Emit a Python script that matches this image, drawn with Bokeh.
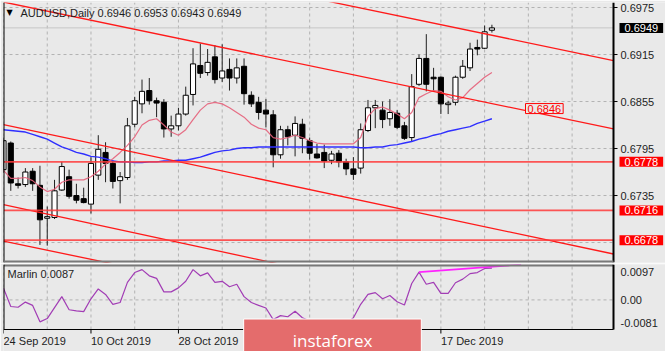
from bokeh.plotting import figure
from bokeh.layouts import column
from bokeh.models import ColumnDataSource, Label, Range1d, Grid
from bokeh.core.properties import value
from bokeh.embed import file_html
from bokeh.resources import INLINE

# ---------------- data ----------------
symbol = "AUDUSD,Daily"
indicator_name = "Marlin"

date_tick_bars = [0, 12, 24, 36, 48, 60]
date_tick_labels = ["24 Sep 2019", "10 Oct 2019", "28 Oct 2019", "13 Nov 2019", "29 Nov 2019", "17 Dec 2019"]
grid_bars = [0, 6, 12, 18, 24, 30, 36, 42, 48, 54, 60, 66, 72, 78]
price_grid = [0.6675, 0.6735, 0.6795, 0.6855, 0.6915, 0.6975]
price_axis_ticks = [0.6735, 0.6795, 0.6855, 0.6915, 0.6975]

opens = [0.6768, 0.6802, 0.6750, 0.6749, 0.6766, 0.6748, 0.6706, 0.6707, 0.6742, 0.6759,
         0.6735, 0.6731, 0.6724, 0.6761, 0.6790, 0.6776, 0.6754, 0.6758, 0.6826, 0.6852,
         0.6869, 0.6856, 0.6854, 0.6820, 0.6824, 0.6839, 0.6864, 0.6901, 0.6892, 0.6912,
         0.6885, 0.6896, 0.6885, 0.6900, 0.6863, 0.6854, 0.6844, 0.6838, 0.6787, 0.6819,
         0.6812, 0.6826, 0.6805, 0.6788, 0.6790, 0.6780, 0.6789, 0.6778, 0.6769, 0.6770,
         0.6818, 0.6847, 0.6844, 0.6833, 0.6840, 0.6824, 0.6809, 0.6877, 0.6910, 0.6886,
         0.6886, 0.6851, 0.6854, 0.6886, 0.6898, 0.6924, 0.6923, 0.6946]
highs = [0.6809, 0.6804, 0.6758, 0.6770, 0.6770, 0.6773, 0.6721, 0.6755, 0.6778, 0.6768,
         0.6750, 0.6745, 0.6784, 0.6812, 0.6803, 0.6780, 0.6765, 0.6834, 0.6861, 0.6883,
         0.6885, 0.6860, 0.6858, 0.6837, 0.6847, 0.6874, 0.6923, 0.6929, 0.6922, 0.6927,
         0.6928, 0.6910, 0.6910, 0.6910, 0.6868, 0.6861, 0.6858, 0.6844, 0.6824, 0.6824,
         0.6836, 0.6833, 0.6809, 0.6801, 0.6800, 0.6792, 0.6793, 0.6782, 0.6784, 0.6827,
         0.6857, 0.6857, 0.6855, 0.6858, 0.6844, 0.6829, 0.6890, 0.6915, 0.6941, 0.6898,
         0.6887, 0.6856, 0.6888, 0.6908, 0.6930, 0.6934, 0.6952, 0.6953]
lows = [0.6764, 0.6741, 0.6744, 0.6746, 0.6741, 0.6672, 0.6671, 0.6705, 0.6741, 0.6731,
        0.6725, 0.6725, 0.6712, 0.6755, 0.6752, 0.6744, 0.6725, 0.6755, 0.6822, 0.6840,
        0.6851, 0.6835, 0.6809, 0.6810, 0.6818, 0.6837, 0.6850, 0.6885, 0.6888, 0.6878,
        0.6880, 0.6869, 0.6878, 0.6851, 0.6848, 0.6832, 0.6822, 0.6771, 0.6782, 0.6799,
        0.6785, 0.6789, 0.6781, 0.6782, 0.6770, 0.6775, 0.6771, 0.6761, 0.6755, 0.6763,
        0.6816, 0.6821, 0.6821, 0.6824, 0.6820, 0.6806, 0.6804, 0.6875, 0.6868, 0.6868,
        0.6839, 0.6839, 0.6850, 0.6884, 0.6894, 0.6914, 0.6922, 0.6943]
closes = [0.6805, 0.6751, 0.6748, 0.6765, 0.6750, 0.6704, 0.6708, 0.6741, 0.6772, 0.6734,
          0.6729, 0.6726, 0.6776, 0.6794, 0.6776, 0.6753, 0.6759, 0.6824, 0.6856, 0.6868,
          0.6856, 0.6853, 0.6820, 0.6824, 0.6839, 0.6863, 0.6903, 0.6891, 0.6905, 0.6883,
          0.6894, 0.6885, 0.6898, 0.6865, 0.6852, 0.6841, 0.6839, 0.6787, 0.6819, 0.6810,
          0.6827, 0.6808, 0.6789, 0.6783, 0.6779, 0.6788, 0.6778, 0.6769, 0.6762, 0.6819,
          0.6847, 0.6850, 0.6832, 0.6841, 0.6822, 0.6808, 0.6874, 0.6910, 0.6877, 0.6884,
          0.6852, 0.6853, 0.6886, 0.6900, 0.6922, 0.6922, 0.6944, 0.6949]

ma_fast = [0.6767, 0.6757, 0.6757, 0.6758, 0.6754, 0.6746, 0.6740, 0.6743, 0.6752, 0.6755,
           0.6755, 0.6755, 0.6759, 0.6766, 0.6775, 0.6782, 0.6790, 0.6799, 0.6810, 0.6825,
           0.6831, 0.6833, 0.6825, 0.6816, 0.6812, 0.6819, 0.6832, 0.6844, 0.6852, 0.6854,
           0.6852, 0.6847, 0.6841, 0.6835, 0.6826, 0.6821, 0.6819, 0.6809, 0.6807, 0.6809,
           0.6812, 0.6809, 0.6805, 0.6802, 0.6801, 0.6801, 0.6801, 0.6801, 0.6801, 0.6809,
           0.6836, 0.6846, 0.6848, 0.6844, 0.6839, 0.6833, 0.6841, 0.6860, 0.6865, 0.6869,
           0.6868, 0.6861, 0.6857, 0.6860, 0.6870, 0.6878, 0.6886, 0.6892]
ma_slow = [0.6819, 0.6818, 0.6817, 0.6816, 0.6813, 0.6810, 0.6807, 0.6802, 0.6797, 0.6794,
           0.6790, 0.6788, 0.6785, 0.6784, 0.6782, 0.6779, 0.6778, 0.6778, 0.6777, 0.6777,
           0.6778, 0.6778, 0.6779, 0.6779, 0.6780, 0.6780, 0.6782, 0.6784, 0.6787, 0.6790,
           0.6792, 0.6793, 0.6795, 0.6796, 0.6796, 0.6797, 0.6797, 0.6797, 0.6797, 0.6797,
           0.6797, 0.6797, 0.6797, 0.6797, 0.6797, 0.6797, 0.6797, 0.6797, 0.6797, 0.6796,
           0.6796, 0.6797, 0.6797, 0.6799, 0.6800, 0.6802, 0.6804, 0.6807, 0.6809, 0.6812,
           0.6814, 0.6817, 0.6819, 0.6821, 0.6823, 0.6827, 0.6830, 0.6833]

marlin = [0.0032, -0.0018, -0.0020, -0.0006, -0.0015, -0.0060, -0.0051, -0.0021, 0.0009, -0.0027,
          -0.0030, -0.0032, 0.0003, 0.0030, 0.0015, -0.0012, -0.0007, 0.0048, 0.0075, 0.0083,
          0.0066, 0.0059, 0.0022, 0.0022, 0.0033, 0.0051, 0.0083, 0.0066, 0.0074, 0.0048,
          0.0051, 0.0036, 0.0043, 0.0009, -0.0007, -0.0015, -0.0022, -0.0054, -0.0043, -0.0046,
          -0.0031, -0.0049, -0.0057, -0.0065, -0.0070, -0.0068, -0.0062, -0.0065, -0.0049, -0.0012,
          0.0015, 0.0020, 0.0003, 0.0012, -0.0005, -0.0014, 0.0045, 0.0076, 0.0043, 0.0048,
          0.0018, 0.0018, 0.0047, 0.0057, 0.0072, 0.0075, 0.0086, 0.0087]
marlin_min, marlin_max = -0.0081, 0.0097
marlin_label_text = ["0.0097", "0.00", "-0.0081"]
divergence_bars = [57, 71]
divergence_vals = [0.0076, 0.0097]

# trend channel lines: two anchor points each (bar, price)
channel_lines = [
    [(45.8, 0.69805), (83.7, 0.69073)],
    [(1.2, 0.69797), (83.7, 0.68201)],
    [(0.0, 0.68256), (83.7, 0.66603)],
    [(0.0, 0.67235), (36.2, 0.66507)],
    [(0.0, 0.66767), (13.5, 0.66507)],
]
levels = [0.6778, 0.6716, 0.6678]
channel_label_price = 0.6846

# ---------------- layout / style constants ----------------
BG = "#e9e9e9"
FONT = "Liberation Sans"
GRID = "#b2b2b2"
TXT = "#1e1e1e"
SEP = "#787878"
Y0, Y1 = 0.66495, 0.69814          # main price range (frame 260 px)
CHART_END = 83.68                   # last visible bar position (chart area 610 px)
PX = 610 / CHART_END                # px per bar
TOTAL_END = 662 / PX                # chart + price-scale area
M_PX = (marlin_max - marlin_min) / 65
M_BOTTOM = marlin_max - 87 * M_PX   # indicator frame reaches page bottom


def base_fig(h, yr, top, bottom):
    f = figure(frame_width=662, frame_height=h, x_range=x_rng, y_range=yr,
               x_axis_location=None, y_axis_location=None, output_backend="svg", toolbar_location=None,
               min_border_left=3, min_border_right=0, min_border_top=top, min_border_bottom=bottom,
               background_fill_color=BG, border_fill_color=BG, outline_line_color=None)
    f.center = [r for r in f.center if not isinstance(r, Grid)]
    return f


n = len(opens)
bars = list(range(n))
src = ColumnDataSource(dict(
    x=bars, high=highs, low=lows,
    top=[max(o, c) for o, c in zip(opens, closes)],
    bottom=[min(o, c) for o, c in zip(opens, closes)],
    fill=["white" if c >= o else "black" for o, c in zip(opens, closes)],
))
x_rng = Range1d(0, TOTAL_END)

# ================= main price panel =================
p = base_fig(260, Range1d(Y0, Y1), 2, 1)

# grid
p.segment(x0=grid_bars, x1=grid_bars, y0=[Y0] * len(grid_bars), y1=[Y1] * len(grid_bars),
          line_color=GRID, line_dash="3 3", line_width=1)
p.segment(x0=[0] * len(price_grid), x1=[CHART_END] * len(price_grid), y0=price_grid, y1=price_grid,
          line_color=GRID, line_dash="3 3", line_width=1)

# bid line
p.segment(x0=[0], x1=[CHART_END], y0=[closes[-1]], y1=[closes[-1]], line_color="#c6c6c6", line_width=1)

# candles
p.segment(x0="x", y0="high", x1="x", y1="low", source=src, line_color="#202020", line_width=1)
p.vbar(x="x", width=0.7, top="top", bottom="bottom", source=src, fill_color="fill",
       line_color="black", line_width=1)

# moving averages
p.line(bars, ma_slow, line_color="#2f2fff", line_width=1.4)
p.line(bars, ma_fast, line_color="#e6607a", line_width=1.2, line_alpha=0.9)

# channel lines (extended across the chart area)
for (xa0, ya0), (xa1, ya1) in channel_lines:
    m = (ya1 - ya0) / (xa1 - xa0)
    xs = [0, CHART_END]
    p.line(xs, [ya0 + m * (xx - xa0) for xx in xs], line_color="#ff1a1a", line_width=1.3)

# horizontal levels
p.segment(x0=[0] * len(levels), x1=[CHART_END] * len(levels), y0=levels, y1=levels,
          line_color="#ff3a3a", line_width=1.8, line_alpha=0.85)

# borders
p.segment(x0=[0, CHART_END], x1=[0, CHART_END], y0=[Y0, Y0], y1=[Y1, Y1], line_color="black", line_width=2)
p.segment(x0=[0], x1=[CHART_END], y0=[Y0], y1=[Y0], line_color=SEP, line_width=4)

# price scale
p.segment(x0=[CHART_END] * len(price_axis_ticks), x1=[CHART_END + 4 / PX] * len(price_axis_ticks),
          y0=price_axis_ticks, y1=price_axis_ticks, line_color="black", line_width=1)
p.text(x=[CHART_END + 7 / PX] * len(price_axis_ticks), y=price_axis_ticks,
       text=[f"{t:.4f}" for t in price_axis_ticks], text_font=value(FONT), text_font_size=value("11px"),
       text_color=TXT, text_align="left", text_baseline="middle")

# title
p.add_layout(Label(x=3, y=250, x_units="screen", y_units="screen", text="\u25bc",
                   text_font="DejaVu Sans", text_font_size="8px", text_color="black",
                   text_baseline="middle"))
title = f"{symbol}  {opens[-1]:.4f} {highs[-1]:.4f} {lows[-1]:.4f} {closes[-1]:.4f}"
p.add_layout(Label(x=17, y=250, x_units="screen", y_units="screen", text=title,
                   text_font=FONT, text_font_size="11px", text_color=TXT, text_baseline="middle"))

# channel value label
p.add_layout(Label(x=522, y=channel_label_price, x_units="screen", text=f"{channel_label_price:.4f}",
                   text_font=FONT, text_font_size="11px", text_color="#ff0000", text_baseline="middle",
                   background_fill_color=BG, border_line_color="#ff0000", border_line_width=1,
                   padding=dict(left=2, right=2, top=1, bottom=1)))

# price boxes on the scale
box_x = CHART_END + 6 / PX
p.add_layout(Label(x=box_x, y=closes[-1], text=f"{closes[-1]:.4f}",
                   text_font=FONT, text_font_size="11px", text_color="white", text_baseline="middle",
                   background_fill_color="black", padding=dict(left=5, right=5, top=1, bottom=1)))
for lv in levels:
    p.add_layout(Label(x=box_x, y=lv, text=f"{lv:.4f}",
                       text_font=FONT, text_font_size="11px", text_color="white", text_baseline="middle",
                       background_fill_color="#ff0000", padding=dict(left=5, right=5, top=1, bottom=1)))

# ================= indicator panel =================
q = base_fig(87, Range1d(M_BOTTOM, marlin_max), 1, 0)

q.segment(x0=grid_bars, x1=grid_bars, y0=[marlin_min] * len(grid_bars), y1=[marlin_max] * len(grid_bars),
          line_color=GRID, line_dash="3 3", line_width=1)
q.segment(x0=[0], x1=[CHART_END], y0=[0.0], y1=[0.0], line_color=GRID, line_dash="3 3", line_width=1)

q.line(bars, marlin, line_color="#a23db5", line_width=1.2)
q.line(divergence_bars, divergence_vals, line_color="#ff22ff", line_width=1.6)

# borders
q.segment(x0=[0], x1=[CHART_END], y0=[marlin_max], y1=[marlin_max], line_color=SEP, line_width=4)
q.segment(x0=[0, CHART_END], x1=[0, CHART_END], y0=[marlin_min, marlin_min], y1=[marlin_max, marlin_max],
          line_color="black", line_width=2)
q.segment(x0=[0], x1=[CHART_END], y0=[marlin_min], y1=[marlin_min], line_color="black", line_width=1)

# indicator scale labels (max / zero / min, drawn inside the panel edges)
m_label_pos = [marlin_max - 7.5 * M_PX, 0.0, marlin_min + 6.5 * M_PX]
q.text(x=[CHART_END + 7 / PX] * 3, y=m_label_pos, text=marlin_label_text,
       text_font=value(FONT), text_font_size=value("11px"), text_color=TXT,
       text_align="left", text_baseline="middle")

# date scale
q.segment(x0=date_tick_bars, x1=date_tick_bars, y0=[marlin_min] * len(date_tick_bars),
          y1=[marlin_min - 4 * M_PX] * len(date_tick_bars), line_color="black", line_width=1)
q.text(x=date_tick_bars, y=[marlin_min - 5 * M_PX] * len(date_tick_bars), text=date_tick_labels,
       text_font=value(FONT), text_font_size=value("11px"), text_color=TXT,
       text_align="left", text_baseline="top")

q.add_layout(Label(x=4, y=78, x_units="screen", y_units="screen", text=f"{indicator_name} {marlin[-1]:.4f}",
                   text_font=FONT, text_font_size="11px", text_color=TXT, text_baseline="middle"))

# watermark
q.add_layout(Label(x=329, y=10, x_units="screen", y_units="screen", text="instaforex",
                   text_font="Open Sans", text_font_size="17px", text_color="white",
                   text_align="center", text_baseline="alphabetic",
                   background_fill_color="#e46c6c", border_line_color="white", border_line_width=1,
                   padding=dict(left=49, right=49, top=10, bottom=12)))

layout = column(p, q, spacing=0)
open("out.html", "w").write(file_html(layout, INLINE))
